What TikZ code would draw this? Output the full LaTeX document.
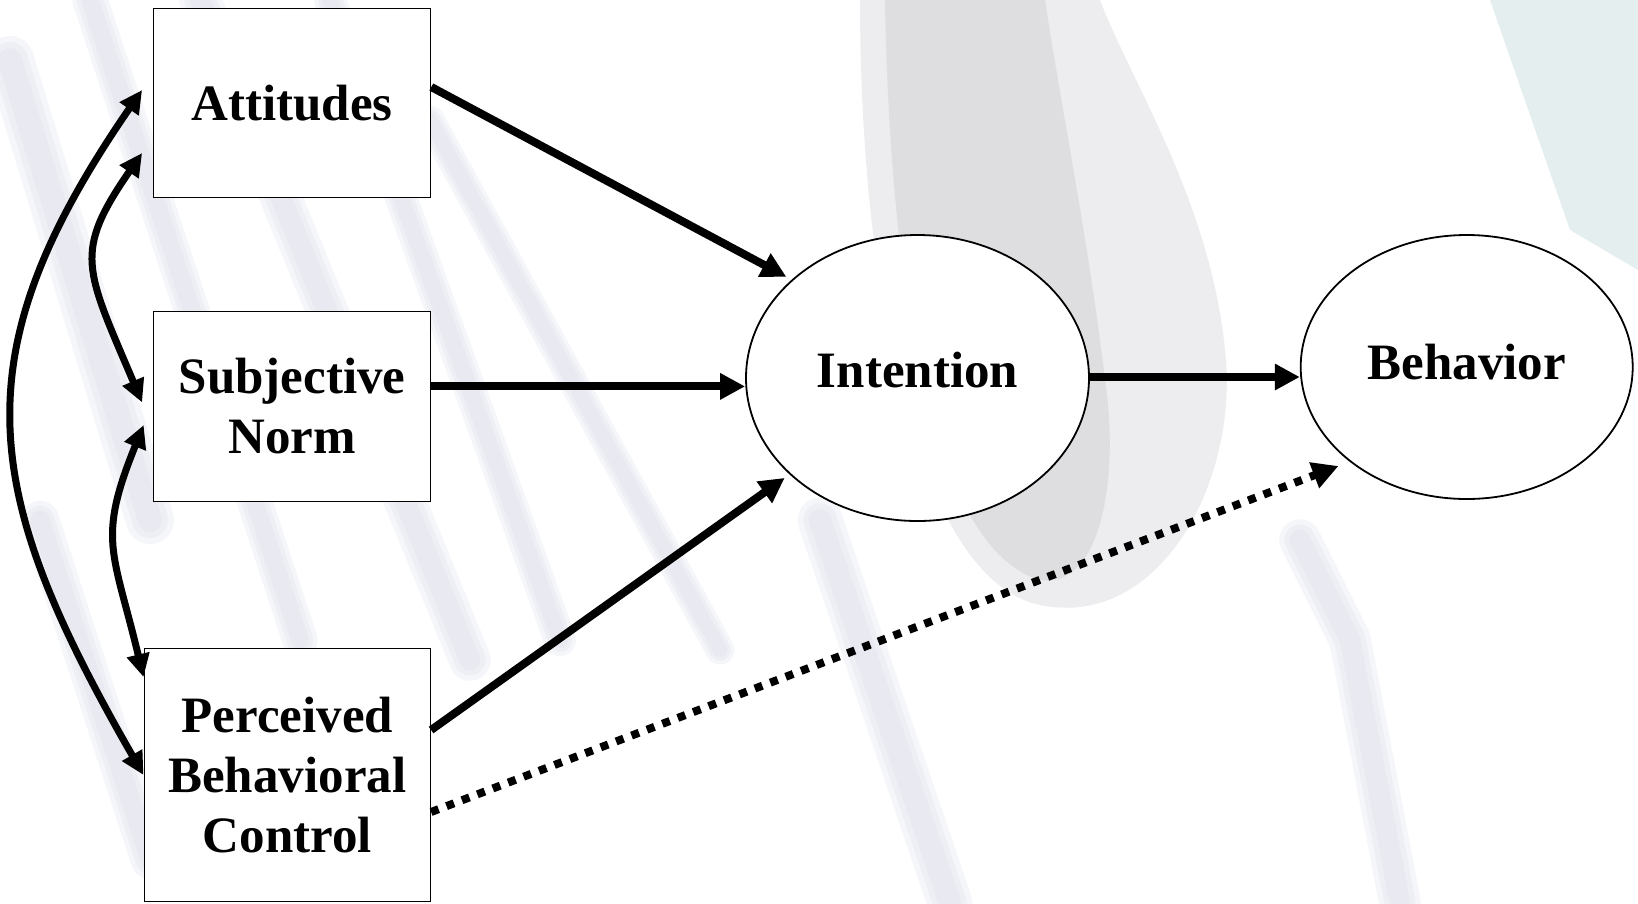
\documentclass[tikz,border=0pt]{standalone}
\usepackage{fontspec}
\setmainfont{Liberation Serif}
\usetikzlibrary{arrows.meta,shapes.geometric}
\definecolor{bgstreak}{RGB}{222,224,234}
\definecolor{bgspoon}{RGB}{205,205,210}
\definecolor{bgteal}{RGB}{222,234,234}
\newcommand\softstroke[2]{\foreach \f in {1.6,1.2,0.8}{\draw[bgstreak, line cap=round, opacity=0.28, line width=\f*#1pt] #2;}}
\begin{document}
\begin{tikzpicture}[x=1pt,y=-1pt,
  lbl/.style={font=\bfseries\fontsize{51}{60}\selectfont},
  box/.style={lbl, draw=black, line width=1.6pt, fill=white, inner sep=0pt, align=center},
  oval/.style={lbl, ellipse, draw=black, line width=1.8pt, fill=white, inner sep=0pt},
  conn/.style={line width=8pt, -{Triangle[length=25pt,width=25pt]}},
  biconn/.style={line width=7pt, {Triangle[length=23pt,width=22pt]}-{Triangle[length=23pt,width=22pt]}},
  dotconn/.style={line width=8pt, dash pattern=on 8pt off 8.5pt, -{Triangle[length=26pt,width=26pt]}}]

\useasboundingbox (0,0) rectangle (1638,903);
\fill[white] (0,0) rectangle (1638,903);

% faint background photo (fork and spoon)
\softstroke{30}{(10,60) -- (150,520)}
\softstroke{22}{(90,0) -- (300,640)}
\softstroke{26}{(200,0) -- (470,660)}
\softstroke{20}{(330,0) -- (560,640)}
\softstroke{18}{(430,120) -- (720,650)}
\softstroke{24}{(40,520) -- (150,860)}
\softstroke{28}{(820,520) -- (950,903)}
\softstroke{26}{(1300,540) -- (1350,640) -- (1400,903)}
\fill[bgspoon, opacity=0.35] (860,0) .. controls (860,300) and (920,580) .. (1040,605)
  .. controls (1160,630) and (1240,480) .. (1225,350)
  .. controls (1210,200) and (1130,80) .. (1100,0) -- cycle;
\fill[bgspoon, opacity=0.45] (885,0) .. controls (890,300) and (935,550) .. (1040,580)
  .. controls (1100,590) and (1120,480) .. (1105,380)
  .. controls (1090,250) and (1060,100) .. (1045,0) -- cycle;
\fill[bgteal, opacity=0.8] (1490,0) -- (1638,0) -- (1638,270) -- (1570,230) -- cycle;

% nodes
\node[box, minimum width=277pt, minimum height=189pt] (att) at (292,103) {Attitudes};
\node[box, minimum width=277pt, minimum height=190pt] (sn) at (292,406.4) {Subjective\\Norm};
\node[box, minimum width=286pt, minimum height=253pt] (pbc) at (287.3,775) {Perceived\\Behavioral\\Control};
\node[oval, minimum width=343pt, minimum height=286pt, text depth=17pt] (int) at (917.5,378) {Intention};
\node[oval, minimum width=332pt, minimum height=264pt, text depth=10pt] (beh) at (1466.7,367) {Behavior};

% connectors
\draw[conn, shorten >=6pt] ([yshift=16pt]att.east) -- (int.142);
\draw[conn] ([yshift=20pt]sn.east) -- ([yshift=20pt]sn.east -| int.west);
\draw[conn, shorten >=6pt] ([yshift=45pt]pbc.east) -- (int.217);
\draw[conn] ([yshift=1pt]int.east) -- ([yshift=1pt]int.east -| beh.west);
\draw[dotconn, shorten >=12pt] ([yshift=-37pt]pbc.east) -- (beh.219);

% correlations
\draw[biconn] ([xshift=-10.6pt,yshift=13pt]att.west) .. controls (-42,357) and (-19,492) .. (pbc.west);
\draw[biconn] ([xshift=-10.6pt,yshift=-50pt]att.west) .. controls (73,253) and (85,268) .. ([xshift=-10.6pt,yshift=4pt]sn.west);
\draw[biconn] ([xshift=-9pt,yshift=-18.6pt]sn.west) .. controls (97,540) and (113,550) .. ([yshift=98pt]pbc.west);
\end{tikzpicture}
\end{document}
